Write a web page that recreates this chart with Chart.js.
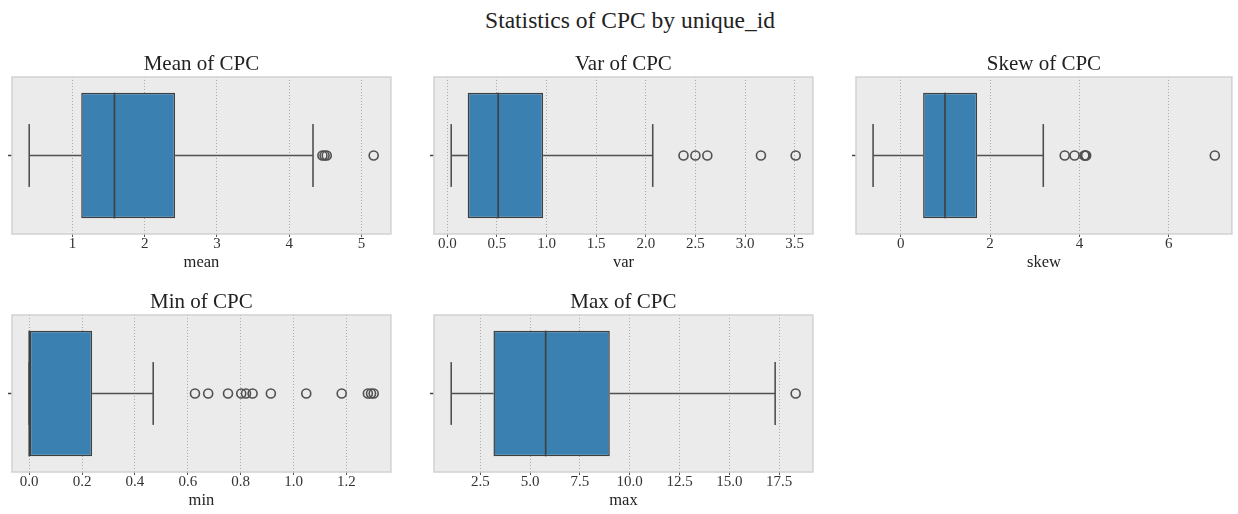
<!DOCTYPE html>
<html>
<head>
<meta charset="utf-8">
<script src="https://cdn.jsdelivr.net/npm/chart.js@4/dist/chart.umd.min.js"></script>
<style>
html, body { margin: 0; padding: 0; background: #fff; }
#wrap { position: relative; width: 1238px; height: 514px; overflow: hidden; background: #fff; }
#suptitle { position: absolute; left: 0; top: 9px; width: 1260px; text-align: center;
  font-family: 'Liberation Serif', 'Times New Roman', serif; font-size: 23.5px; line-height: 23px; color: #222; }
canvas { position: absolute; }
</style>
</head>
<body>
<div id="wrap"><div id="suptitle">Statistics of CPC by unique_id</div></div>
<script>
// ---------------- data ----------------
const panelKeys   = ['mean', 'var', 'skew', 'min', 'max'];
const panelTitles = ['Mean of CPC', 'Var of CPC', 'Skew of CPC', 'Min of CPC', 'Max of CPC'];

const whiskerLow   = [0.40, 0.04, -0.62, 0.000, 1.04];
const q1Values     = [1.12, 0.206, 0.50, 0.000, 3.16];
const medianValues = [1.58, 0.513, 0.99, 0.000, 5.78];
const q3Values     = [2.42, 0.966, 1.71, 0.238, 9.00];
const whiskerHigh  = [4.33, 2.07, 3.19, 0.469, 17.30];

const meanOutliers = [4.46, 4.49, 4.52, 5.17];
const varOutliers  = [2.38, 2.50, 2.62, 3.16, 3.51];
const skewOutliers = [3.67, 3.89, 4.11, 4.13, 4.15, 7.03];
const minOutliers  = [0.627, 0.677, 0.752, 0.802, 0.820, 0.845, 0.914, 1.048, 1.182, 1.281, 1.293, 1.303];
const maxOutliers  = [18.33];
const outlierSets  = [meanOutliers, varOutliers, skewOutliers, minOutliers, maxOutliers];

const meanTicks = [1, 2, 3, 4, 5];
const varTicks  = [0.0, 0.5, 1.0, 1.5, 2.0, 2.5, 3.0, 3.5];
const skewTicks = [0, 2, 4, 6];
const minTicks  = [0.0, 0.2, 0.4, 0.6, 0.8, 1.0, 1.2];
const maxTicks  = [2.5, 5.0, 7.5, 10.0, 12.5, 15.0, 17.5];
const tickSets  = [meanTicks, varTicks, skewTicks, minTicks, maxTicks];
const tickDecimals = [0, 1, 0, 1, 1];

// ---------------- layout / style ----------------
const FONT = "'Liberation Serif', 'Times New Roman', serif";
const plotRects = [
  { l: 12,  t: 77,  r: 395,  b: 234 },
  { l: 434, t: 77,  r: 817,  b: 234 },
  { l: 856, t: 77,  r: 1236, b: 234 },
  { l: 12,  t: 315, r: 395,  b: 472 },
  { l: 434, t: 315, r: 817,  b: 472 }
];
const TITLE_H = 27, XAX_H = 39, YAX_W = 10, PAD_R = 2;
const BOX_HALF = 0.4, CAP_HALF = 0.2;
const BOX_FILL = '#3a80b1', EDGE = '#3f3f3f', WHISK = '#505050';

const panelFrame = {
  id: 'panelFrame',
  beforeDraw(chart) {
    const { ctx, chartArea: a } = chart;
    ctx.save();
    ctx.fillStyle = '#ebebeb';
    ctx.fillRect(a.left, a.top, a.right - a.left, a.bottom - a.top);
    ctx.restore();
  },
  beforeDatasetsDraw(chart) {
    const { ctx, chartArea: a } = chart;
    ctx.save();
    ctx.strokeStyle = '#d2d2d2';
    ctx.lineWidth = 1.5;
    ctx.strokeRect(a.left, a.top, a.right - a.left, a.bottom - a.top);
    ctx.restore();
  }
};

const wrap = document.getElementById('wrap');

function lineSet(points, order, color, width) {
  return { type: 'line', data: points, borderColor: color, borderWidth: width,
    pointRadius: 0, fill: false, tension: 0, order: order, borderCapStyle: 'butt' };
}

panelKeys.forEach((key, i) => {
  const rc = plotRects[i];
  const cv = document.createElement('canvas');
  const w = rc.r - rc.l + YAX_W + PAD_R;
  const h = rc.b - rc.t + TITLE_H + XAX_H;
  cv.width = w; cv.height = h;
  cv.style.left = (rc.l - YAX_W) + 'px';
  cv.style.top = (rc.t - TITLE_H) + 'px';
  cv.style.width = w + 'px'; cv.style.height = h + 'px';
  wrap.appendChild(cv);

  const lo = whiskerLow[i], q1 = q1Values[i], med = medianValues[i], q3 = q3Values[i], hi = whiskerHigh[i];
  const outs = outlierSets[i];
  const dMin = Math.min(lo, ...outs), dMax = Math.max(hi, ...outs);
  const margin = (dMax - dMin) * 0.05;
  const ticksArr = tickSets[i];
  const dec = tickDecimals[i];

  new Chart(cv, {
    type: 'scatter',
    data: {
      datasets: [
        lineSet([{ x: lo, y: 0 }, { x: q1, y: 0 }], 3, WHISK, 1.6),
        lineSet([{ x: q3, y: 0 }, { x: hi, y: 0 }], 3, WHISK, 1.6),
        lineSet([{ x: lo, y: -CAP_HALF }, { x: lo, y: CAP_HALF }], 3, WHISK, 1.6),
        lineSet([{ x: hi, y: -CAP_HALF }, { x: hi, y: CAP_HALF }], 3, WHISK, 1.6),
        {
          type: 'bar', indexAxis: 'y', data: [{ x: [q1, q3], y: 0 }],
          backgroundColor: BOX_FILL, borderColor: EDGE, borderWidth: 1.5, borderSkipped: false,
          categoryPercentage: 1, barPercentage: BOX_HALF * 2, order: 2
        },
        lineSet([{ x: med, y: -BOX_HALF }, { x: med, y: BOX_HALF }], 1, EDGE, 1.6),
        {
          type: 'scatter', data: outs.map(v => ({ x: v, y: 0 })),
          pointStyle: 'circle', pointRadius: 4.5, backgroundColor: 'rgba(0,0,0,0)',
          borderColor: WHISK, borderWidth: 1.6, order: 0
        }
      ]
    },
    options: {
      responsive: false, animation: false, devicePixelRatio: 1, events: [],
      layout: { padding: { left: 0, right: PAD_R, top: 0, bottom: 0 } },
      plugins: {
        legend: { display: false },
        tooltip: { enabled: false },
        title: {
          display: true, text: panelTitles[i], fullSize: false, color: '#222',
          font: { family: FONT, size: 21, weight: 'normal', lineHeight: 1 },
          padding: { top: 3.5, bottom: 2.5 }
        }
      },
      scales: {
        x: {
          type: 'linear', position: 'bottom', min: dMin - margin, max: dMax + margin, offset: false,
          afterBuildTicks: s => { s.ticks = ticksArr.map(v => ({ value: v })); },
          afterFit: s => { s.height = XAX_H; },
          ticks: {
            autoSkip: false, maxRotation: 0, color: '#333', padding: -2,
            font: { family: FONT, size: 15, lineHeight: 1.2 },
            callback: v => Number(v).toFixed(dec)
          },
          grid: {
            color: '#a9a9a9', lineWidth: 1, offset: false,
            tickLength: 3, tickColor: '#555', tickWidth: 1, tickBorderDash: []
          },
          border: { display: false, dash: [1, 2] },
          title: {
            display: true, text: key, color: '#222',
            font: { family: FONT, size: 16.5, lineHeight: 1.2 },
            padding: { top: 0, bottom: 0 }
          }
        },
        y: {
          type: 'linear', position: 'left', min: -0.5, max: 0.5, offset: false,
          afterBuildTicks: s => { s.ticks = [{ value: 0 }]; },
          afterFit: s => { s.width = YAX_W; },
          ticks: { callback: () => '', padding: 0 },
          grid: { drawOnChartArea: false, offset: false, tickLength: 4, tickColor: '#444', tickWidth: 1.5, tickBorderDash: [] },
          border: { display: false }
        }
      }
    },
    plugins: [panelFrame]
  });
});
</script>
</body>
</html>
